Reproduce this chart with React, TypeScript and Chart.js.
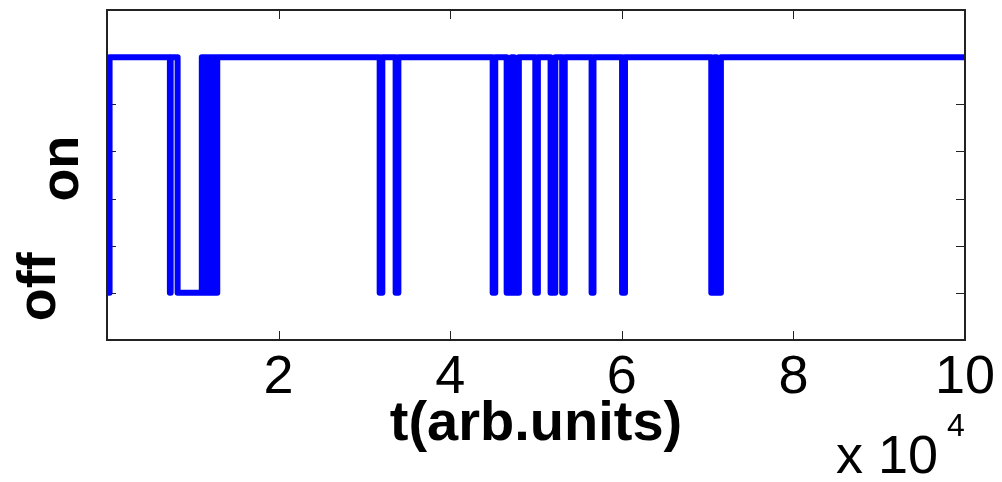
import React, { useEffect, useRef } from 'react';
import { Chart, registerables } from 'chart.js';

Chart.register(...registerables);

// Switching times (arb. units) and the state entered at each time (0 = off, 1 = on)
const switchTimes = [
  0, 300,
  7330, 7420,
  8230,
  11050, 11230, 11410, 11590, 11770, 11950, 12130, 12310, 12490, 12670, 12850,
  31780, 32090,
  33640, 33960,
  44950, 45250,
  46580, 47150, 47450, 48000,
  49920, 50220,
  51700, 52250,
  53050, 53350,
  56480, 56700,
  60030, 60370,
  70430, 70800, 71050, 71550,
  100000,
];
const switchStates = [
  0, 1,
  0, 1,
  0,
  1, 0, 1, 0, 1, 0, 1, 0, 1, 0, 1,
  0, 1,
  0, 1,
  0, 1,
  0, 1, 0, 1,
  0, 1,
  0, 1,
  0, 1,
  0, 1,
  0, 1,
  0, 1, 0, 1,
  1,
];

const xTickValues = [20000, 40000, 60000, 80000, 100000];
const xTickLabels = ['2', '4', '6', '8', '10'];
const yTickValues = [0, 0.2, 0.4, 0.6, 0.8, 1];
const yStateLabels = ['off', 'on'];
const xTitle = 't(arb.units)';
const exponentBase = 'x 10';
const exponentPower = '4';

const FONT = '"Liberation Sans", Arial, Helvetica, sans-serif';

const framePlugin = {
  id: 'matlabFrame',
  beforeDatasetsDraw(chart: any) {
    const { ctx, chartArea } = chart;
    const xs = chart.scales.x;
    const ys = chart.scales.y;
    const tl = 9;
    ctx.save();
    ctx.strokeStyle = '#222222';
    ctx.lineWidth = 1;
    xs.ticks.forEach((t: any) => {
      if (t.value <= xs.min || t.value >= xs.max) return;
      const px = Math.round(xs.getPixelForValue(t.value)) + 0.5;
      ctx.beginPath();
      ctx.moveTo(px, chartArea.bottom);
      ctx.lineTo(px, chartArea.bottom - tl);
      ctx.moveTo(px, chartArea.top);
      ctx.lineTo(px, chartArea.top + tl);
      ctx.stroke();
    });
    ys.ticks.forEach((t: any) => {
      if (t.value <= ys.min || t.value >= ys.max) return;
      const py = Math.round(ys.getPixelForValue(t.value)) + 0.5;
      ctx.beginPath();
      ctx.moveTo(chartArea.left, py);
      ctx.lineTo(chartArea.left + tl, py);
      ctx.moveTo(chartArea.right, py);
      ctx.lineTo(chartArea.right - tl, py);
      ctx.stroke();
    });
    ctx.restore();
  },
  afterDraw(chart: any) {
    const { ctx, chartArea } = chart;
    const ys = chart.scales.y;
    ctx.save();
    // frame
    ctx.strokeStyle = '#222222';
    ctx.lineWidth = 2;
    ctx.strokeRect(chartArea.left, chartArea.top, chartArea.right - chartArea.left, chartArea.bottom - chartArea.top);

    // state labels (rotated)
    ctx.fillStyle = '#000000';
    ctx.font = `bold 54px ${FONT}`;
    ctx.textAlign = 'center';
    ctx.textBaseline = 'alphabetic';
    const offY = ys.getPixelForValue(0) - 6;
    const onY = ys.getPixelForValue(0.527);
    ctx.save();
    ctx.translate(55, offY);
    ctx.rotate(-Math.PI / 2);
    ctx.fillText(yStateLabels[0], 0, 0);
    ctx.restore();
    ctx.save();
    ctx.translate(78, onY);
    ctx.rotate(-Math.PI / 2);
    ctx.fillText(yStateLabels[1], 0, 0);
    ctx.restore();

    // exponent
    ctx.textAlign = 'left';
    ctx.font = `54px ${FONT}`;
    ctx.fillText(exponentBase, 836, 473);
    ctx.font = `32px ${FONT}`;
    ctx.fillText(exponentPower, 947, 436);
    ctx.restore();
  },
};

export default function App() {
  const canvasRef = useRef<HTMLCanvasElement | null>(null);

  useEffect(() => {
    document.body.style.margin = '0';
    const canvas = canvasRef.current;
    if (!canvas) return;
    const points = switchTimes.map((t, i) => ({ x: t, y: switchStates[i] }));
    const chart = new Chart(canvas, {
      type: 'line',
      data: {
        datasets: [
          {
            data: points,
            borderColor: '#0000ff',
            backgroundColor: '#0000ff',
            borderWidth: 6,
            stepped: 'before',
            pointRadius: 0,
            fill: false,
            borderCapStyle: 'round',
            borderJoinStyle: 'round',
          },
        ],
      },
      options: {
        animation: false,
        responsive: true,
        maintainAspectRatio: false,
        layout: { padding: { top: 10, right: 37, left: 0, bottom: 0 } },
        plugins: {
          legend: { display: false },
          tooltip: { enabled: false },
        },
        scales: {
          x: {
            type: 'linear',
            min: 0,
            max: 100000,
            grid: { display: false, drawTicks: false },
            border: { display: false },
            ticks: {
              stepSize: 20000,
              padding: 6,
              color: '#000000',
              maxRotation: 0,
              autoSkip: false,
              font: { family: FONT, size: 54 },
              callback: (value: any) => {
                const i = xTickValues.indexOf(Number(value));
                return i >= 0 ? xTickLabels[i] : '';
              },
            },
            title: {
              display: true,
              text: xTitle,
              color: '#000000',
              font: { family: FONT, size: 56, weight: 'bold' },
              padding: { top: 0, bottom: 24 },
            },
            afterFit: (scale: any) => {
              scale.height = 142;
            },
          },
          y: {
            type: 'linear',
            min: -0.2,
            max: 1.2,
            grid: { display: false, drawTicks: false },
            border: { display: false },
            ticks: { display: false },
            afterBuildTicks: (scale: any) => {
              scale.ticks = yTickValues.map((v) => ({ value: v }));
            },
            afterFit: (scale: any) => {
              scale.width = 107;
            },
          },
        },
      },
      plugins: [framePlugin],
    });
    return () => chart.destroy();
  }, []);

  return (
    <div style={{ width: 1002, height: 482, position: 'relative', background: '#ffffff' }}>
      <canvas ref={canvasRef} />
    </div>
  );
}
